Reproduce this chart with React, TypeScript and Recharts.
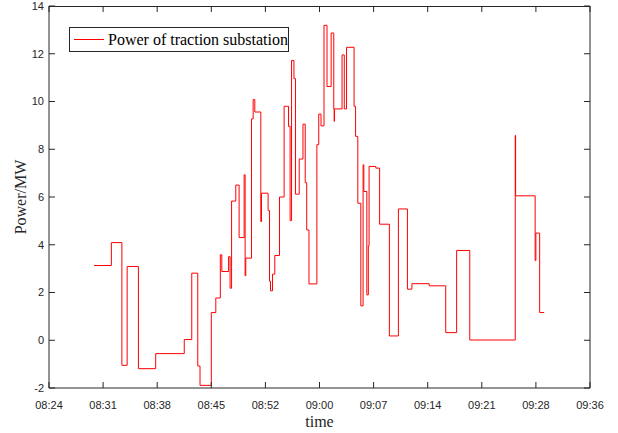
import { LineChart, Line, XAxis, YAxis, Label, ReferenceLine, CartesianGrid } from 'recharts';

// minutes after 08:24
const minutes = [
  6.0, 8.3, 9.7, 10.4, 11.9, 14.2, 18.0, 19.0, 19.8, 20.1,
  21.6, 22.2, 22.8, 23.0, 23.9, 24.1, 24.3, 24.86, 25.3, 25.97,
  26.1, 26.19, 26.95, 27.17, 27.39, 28.19, 28.28, 29.16, 29.35, 29.48,
  29.75, 30.05, 30.68, 31.29, 31.88, 32.09, 32.28, 32.6, 32.8, 33.3,
  33.8, 34.1, 34.3, 34.6, 35.65, 35.9, 36.2, 36.6, 37.0, 37.55,
  37.9, 37.95, 38.0, 39.0, 39.3, 39.6, 40.6, 40.8, 41.1, 41.5,
  41.8, 41.9, 42.3, 42.5, 42.6, 43.5, 44.0, 45.3, 46.5, 47.7,
  48.3, 50.6, 52.8, 54.25, 56.0, 62.05, 62.1, 64.7, 64.8, 65.3,
  65.9,
];
const powerMW = [
  3.13, 4.09, -1.05, 3.09, -1.19, -0.56, 0.03, 2.81, -1.08, -1.89,
  1.16, 1.77, 3.58, 2.88, 3.5, 2.18, 5.83, 6.5, 4.3, 6.93,
  2.7, 3.44, 9.27, 10.08, 9.56, 4.97, 6.16, 5.43, 2.47, 2.07,
  2.77, 3.55, 6.0, 9.8, 8.96, 5.01, 11.72, 10.96, 6.12, 7.59,
  9.05, 6.6, 4.62, 2.36, 8.19, 9.47, 8.98, 13.19, 10.63, 12.87,
  9.69, 9.17, 9.69, 11.95, 9.69, 12.27, 9.8, 8.54, 5.74, 1.44,
  7.35, 6.23, 1.9, 3.95, 7.28, 7.21, 4.86, 0.18, 5.5, 2.14,
  2.37, 2.28, 0.32, 3.76, 0.01, 8.58, 6.05, 3.34, 4.49, 1.16,
  1.16,
];

const xTicks = [0, 7.2, 14.4, 21.6, 28.8, 36, 43.2, 50.4, 57.6, 64.8, 72];
const xTickLabels = ['08:24', '08:31', '08:38', '08:45', '08:52', '09:00', '09:07', '09:14', '09:21', '09:28', '09:36'];
const yTicks = [-2, 0, 2, 4, 6, 8, 10, 12, 14];

const data = minutes.map((t, i) => ({ t, p: powerMW[i] }));

const axisColor = '#262626';
const serif = 'Liberation Serif, Times New Roman, serif';
const tickFont = { fontSize: 11, fill: axisColor, fontFamily: 'Liberation Sans, Arial, sans-serif' };
const yMax = yTicks[yTicks.length - 1];

export default function App() {
  return (
    <div style={{ position: 'absolute', left: 0, top: 0, width: 618, height: 433, background: '#fff' }}>
      <LineChart width={618} height={433} data={data} margin={{ top: 6, right: 8, bottom: 0, left: 0 }}>
        {/* top edge of the box */}
        <CartesianGrid
          vertical={false}
          horizontal
          stroke={axisColor}
          strokeDasharray="0"
          horizontalCoordinatesGenerator={({ offset }: any) => [offset.top + 0.5]}
        />
        <XAxis
          dataKey="t"
          type="number"
          domain={[0, 72]}
          ticks={xTicks}
          tickFormatter={(v: number) => xTickLabels[xTicks.indexOf(v)] ?? ''}
          tick={tickFont}
          stroke={axisColor}
          tickSize={-6}
          tickMargin={19}
          height={45}
          interval={0}
        >
          <Label value="time" position="insideBottom" offset={6} style={{ fontFamily: serif, fontSize: 16, fill: axisColor }} />
        </XAxis>
        <YAxis
          type="number"
          domain={[-2, 14]}
          ticks={yTicks}
          tick={tickFont}
          stroke={axisColor}
          tickSize={-6}
          tickMargin={11}
          width={49}
          interval={0}
        >
          <Label
            value="Power/MW"
            angle={-90}
            position="insideLeft"
            offset={20}
            style={{ fontFamily: serif, fontSize: 16, fill: axisColor, textAnchor: 'middle' }}
          />
        </YAxis>
        <YAxis
          yAxisId="right"
          orientation="right"
          type="number"
          domain={[-2, 14]}
          ticks={yTicks}
          tickFormatter={() => ''}
          stroke={axisColor}
          tickSize={-6}
          width={20}
          interval={0}
        />
        {/* inward ticks on the top edge */}
        {xTicks.map((x) => (
          <ReferenceLine
            key={x}
            segment={[{ x, y: yMax }, { x, y: yMax - 0.25 }]}
            stroke={axisColor}
            strokeWidth={1}
            ifOverflow="visible"
          />
        ))}
        {/* invisible copy so the right axis has a series */}
        <Line
          yAxisId="right"
          type="stepAfter"
          dataKey="p"
          stroke="none"
          dot={false}
          legendType="none"
          isAnimationActive={false}
        />
        <Line
          type="stepAfter"
          dataKey="p"
          stroke="#ff0000"
          strokeWidth={1}
          dot={false}
          isAnimationActive={false}
        />
      </LineChart>
      <div
        style={{
          position: 'absolute',
          left: 69,
          top: 27,
          border: '1px solid #262626',
          background: '#fff',
          width: 218,
          height: 23,
          display: 'flex',
          alignItems: 'center',
          fontFamily: serif,
          fontSize: 16,
          color: '#000',
          whiteSpace: 'nowrap',
        }}
      >
        <span style={{ display: 'inline-block', width: 31, height: 1, background: '#ff0000', marginLeft: 4, marginRight: 4 }} />
        <span>Power of traction substation</span>
      </div>
    </div>
  );
}
